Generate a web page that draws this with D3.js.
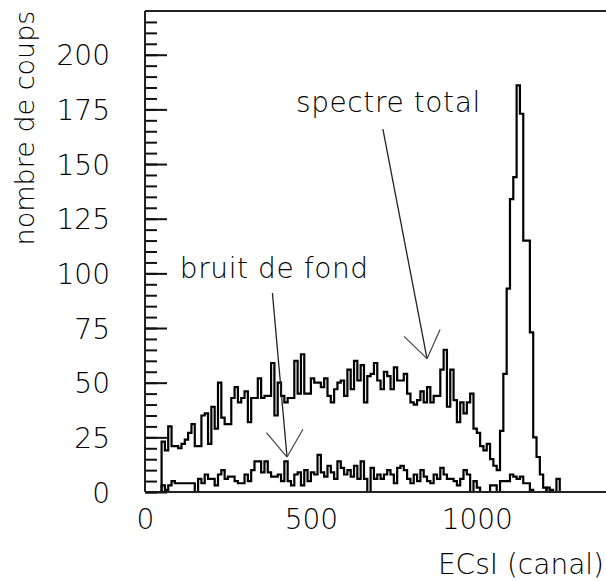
<!DOCTYPE html>
<html>
<head>
<meta charset="utf-8">
<script src="https://cdn.jsdelivr.net/npm/d3@7/dist/d3.min.js"></script>
<style>
html,body{margin:0;padding:0;background:#fff;}
svg{display:block;}
text{font-family:"DejaVu Sans",sans-serif;font-weight:200;fill:#000;}
</style>
</head>
<body>
<script>
// ---- data ----
const binStart = 50;      // first channel of the histograms
const binWidth = 10;      // channels per bin
const spectreTotal = [
  23,19,30,21,21,20,22,24,27,31,
  21,21,35,36,22,39,29,50,34,31,
  31,43,48,41,43,46,32,43,43,52,
  43,44,44,59,35,50,44,41,43,43,
  60,45,63,45,45,52,50,50,48,52,
  44,41,47,50,51,44,56,47,60,51,
  58,41,53,54,59,51,47,55,53,47,
  57,51,51,54,45,41,40,42,46,41,
  48,41,44,44,56,65,39,56,42,32,
  41,36,41,45,29,27,21,19,22,15,
  12,10,28,54,93,134,144,186,173,115,
  115,73,25,16,8,2,0,1,0,6,0
];
const bruitDeFond = [
  3,1,3,5,4,4,4,4,4,4,
  0,6,4,8,6,6,3,8,10,6,
  7,7,5,4,4,8,5,10,14,14,
  9,14,9,7,7,8,5,14,5,3,
  8,9,3,10,5,9,8,17,9,7,
  12,9,6,14,11,8,10,7,12,6,
  14,6,0,11,6,8,6,8,10,8,
  4,11,12,10,6,4,8,5,10,7,
  5,4,8,6,11,8,6,6,5,3,
  6,10,8,0,5,2,0,0,0,3,
  3,0,5,5,5,8,7,6,7,4,
  4,1,0,0,0,0,2,0,0,0,0
];
const xTickLabels = [0, 500, 1000];
const yTickLabels = [0, 25, 50, 75, 100, 125, 150, 175, 200];
const yMinorTicks = d3.range(0, 220, 5);
const xTitle = "ECsI (canal)";
const yTitle = "nombre de coups";
// annotations in data coordinates: [channel, counts]
const annotations = [
  {text: "spectre total", label: [455, 174], from: [717, 166], to: [850, 61]},
  {text: "bruit de fond", label: [105, 98], from: [384, 91], to: [428, 16]}
];

// ---- layout ----
const W = 606, H = 581;
const svg = d3.select("body").append("svg").attr("width", W).attr("height", H);
svg.append("rect").attr("width", W).attr("height", H).attr("fill", "#fff");

const x = d3.scaleLinear().domain([0, 1400]).range([145, 145 + 1400 * 0.3318]);
const y = d3.scaleLinear().domain([0, 220]).range([492, 11]);

function histPoints(vals) {
  const pts = [[binStart, 0]];
  vals.forEach((v, i) => pts.push([binStart + i * binWidth, v]));
  pts.push([binStart + vals.length * binWidth, 0]);
  return pts;
}
const line = d3.line().x(d => x(d[0])).y(d => y(d[1])).curve(d3.curveStepAfter);

// histograms
[spectreTotal, bruitDeFond].forEach(vals => {
  svg.append("path")
    .attr("d", line(histPoints(vals)))
    .attr("fill", "none").attr("stroke", "#000").attr("stroke-width", 2.2)
    .attr("stroke-linejoin", "miter");
});

// frame: top and bottom lines
svg.append("line").attr("x1", x(0)).attr("x2", W).attr("y1", y(220)).attr("y2", y(220))
  .attr("stroke", "#222").attr("stroke-width", 2);
svg.append("line").attr("x1", x(0)).attr("x2", W).attr("y1", y(0)).attr("y2", y(0))
  .attr("stroke", "#222").attr("stroke-width", 2);

// y axis: minor and major ticks pointing inward
const gMinor = svg.append("g").attr("transform", `translate(${x(0)},0)`)
  .call(d3.axisRight(y).tickValues(yMinorTicks).tickSize(12).tickFormat(""));
const gMajor = svg.append("g").attr("transform", `translate(${x(0)},0)`)
  .call(d3.axisRight(y).tickValues(yTickLabels).tickSize(22).tickFormat(""));
[gMinor, gMajor].forEach(g => {
  g.selectAll("line").attr("stroke", "#111").attr("stroke-width", 2);
  g.select(".domain").attr("stroke", "#222").attr("stroke-width", 2)
    .attr("d", `M0,${y(220)}V${y(0)}`);
});
const gLab = svg.append("g").attr("transform", `translate(${x(0)},0)`)
  .call(d3.axisLeft(y).tickValues(yTickLabels).tickSize(0).tickPadding(35));
gLab.select(".domain").remove();
gLab.selectAll("text").attr("font-family", "DejaVu Sans").attr("font-size", 28)
  .attr("font-weight", 200).attr("fill", "#000").attr("dy", "0.36em");

// x axis labels (no ticks in reference)
const gX = svg.append("g").attr("transform", `translate(0,${y(0)})`)
  .call(d3.axisBottom(x).tickValues(xTickLabels).tickSize(0).tickPadding(17).tickFormat(d3.format("d")));
gX.select(".domain").remove();
gX.selectAll("text").attr("font-family", "DejaVu Sans").attr("font-size", 28)
  .attr("font-weight", 200).attr("fill", "#000");

// axis titles
svg.append("text").attr("x", 604).attr("y", 574).attr("text-anchor", "end")
  .attr("font-size", 28).text(xTitle);
svg.append("text").attr("transform", "translate(34,128) rotate(-90)")
  .attr("text-anchor", "middle").attr("font-size", 27).text(yTitle);

// annotations
annotations.forEach(a => {
  svg.append("text").attr("x", x(a.label[0])).attr("y", y(a.label[1]))
    .attr("font-size", 28).attr("letter-spacing", 0.6).text(a.text);
  const x1 = x(a.from[0]), y1 = y(a.from[1]), x2 = x(a.to[0]), y2 = y(a.to[1]);
  svg.append("line").attr("x1", x1).attr("y1", y1).attr("x2", x2).attr("y2", y2)
    .attr("stroke", "#222").attr("stroke-width", 1.3);
  const ang = Math.atan2(y1 - y2, x1 - x2), L = 32, da = 35 * Math.PI / 180;
  [-da, da].forEach(d => {
    svg.append("line").attr("x1", x2).attr("y1", y2)
      .attr("x2", x2 + L * Math.cos(ang + d)).attr("y2", y2 + L * Math.sin(ang + d))
      .attr("stroke", "#444").attr("stroke-width", 1.2);
  });
});
</script>
</body>
</html>
